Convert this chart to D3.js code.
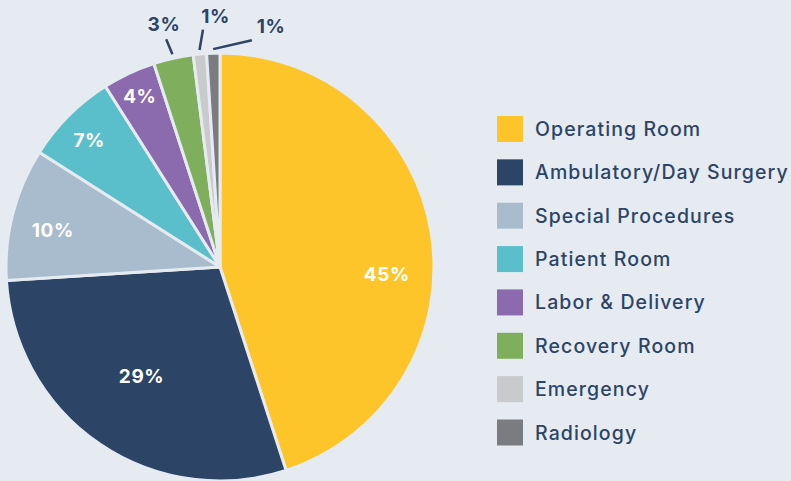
<!DOCTYPE html>
<html><head><meta charset="utf-8">
<script src="https://cdn.jsdelivr.net/npm/d3@7"></script>
<style>
html,body{margin:0;padding:0;background:#e6ebf2;}
svg{display:block;font-family:Inter, "Open Sans", sans-serif;}
</style></head>
<body><svg id="c" width="791" height="481"></svg>
<script>
const categories = ["Operating Room","Ambulatory/Day Surgery","Special Procedures","Patient Room","Labor & Delivery","Recovery Room","Emergency","Radiology"];
const values = [45, 29, 10, 7, 4, 3, 1, 1];
const labels = ["45%","29%","10%","7%","4%","3%","1%","1%"];
const colors = ["#fec52b","#2c4466","#a8bccd","#5bbfcb","#8b6aae","#7fae5c","#c9cacc","#7b7c80"];

// label layout (polar: angle offset from slice centroid in degrees, radius as fraction of R)
const insideLayout = [[11.7,0.78],[1.4,0.63],[-2,0.80],[-1,0.85],[0,0.88]];
// outside labels: line end (absolute angle deg, radius px offset), text (absolute angle deg, radius offset)
const outsideLayout = [
  {line:[346.7,20], text:[347,35]},
  {line:[355.9,24], text:[359,37]},
  {line:[8,15], text:[12,32]}
];

const W=791,H=481, cx=220, cy=267, R=214;
const svg=d3.select("#c");
const g=svg.append("g").attr("transform",`translate(${cx},${cy})`);
const pie=d3.pie().sort(null).value(d=>d);
const arcs=pie(values);
const arc=d3.arc().innerRadius(0).outerRadius(R);
g.selectAll("path.s").data(arcs).join("path").attr("class","s")
  .attr("d",arc).attr("fill",(d,i)=>colors[i])
  .attr("stroke","#e6ebf2").attr("stroke-width",3).attr("stroke-linejoin","round");

const polar=(deg,r)=>{const a=deg*Math.PI/180;return [r*Math.sin(a),-r*Math.cos(a)];};
const deg=rad=>rad*180/Math.PI;

arcs.forEach((d,i)=>{
  const mid=deg((d.startAngle+d.endAngle)/2);
  if(i<insideLayout.length){
    const [off,f]=insideLayout[i];
    const [x,y]=polar(mid+off,R*f);
    g.append("text").attr("x",x).attr("y",y).attr("text-anchor","middle")
      .attr("dominant-baseline","central").attr("fill","#fff").attr("letter-spacing",0.6)
      .attr("font-size",19).attr("font-weight",700).text(labels[i]);
  } else {
    const L=outsideLayout[i-insideLayout.length];
    const p0=polar(mid,R+4), p1=polar(L.line[0],R+L.line[1]);
    g.append("line").attr("x1",p0[0]).attr("y1",p0[1]).attr("x2",p1[0]).attr("y2",p1[1])
      .attr("stroke","#2c4466").attr("stroke-width",2.5);
    const t=polar(L.text[0],R+L.text[1]);
    g.append("text").attr("x",t[0]).attr("y",t[1]).attr("text-anchor","middle")
      .attr("dominant-baseline","central").attr("fill","#2c4466").attr("letter-spacing",0.6)
      .attr("font-size",19).attr("font-weight",700).text(labels[i]);
  }
});

const leg=svg.append("g").attr("transform","translate(497,116)");
const rowY=d3.scalePoint().domain(categories).range([0,303.5]);
const row=leg.selectAll("g").data(categories).join("g").attr("transform",d=>`translate(0,${rowY(d)})`);
row.append("rect").attr("width",26).attr("height",26).attr("fill",(d,i)=>colors[i]);
row.append("text").attr("x",38).attr("y",13).attr("dominant-baseline","central")
  .attr("fill","#2c4466").attr("font-size",19.5).attr("font-weight",500).attr("letter-spacing",1.1).text(d=>d);
</script></body></html>
